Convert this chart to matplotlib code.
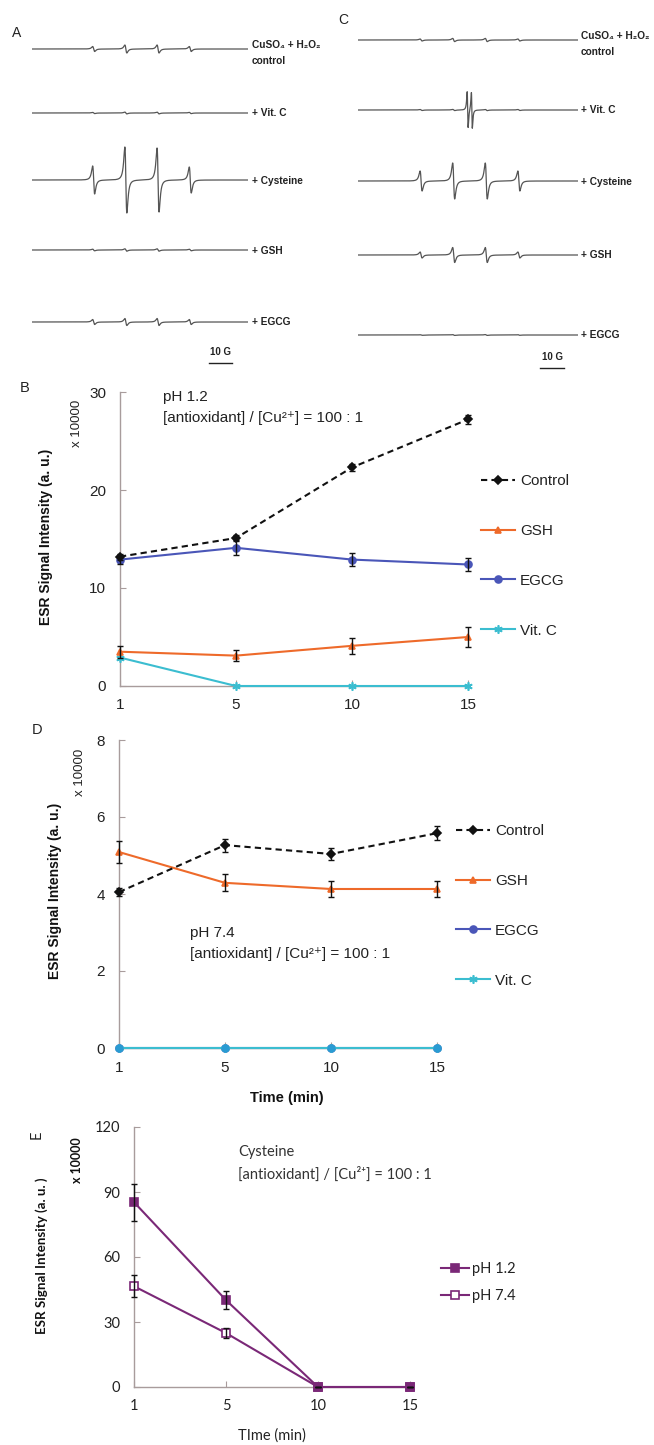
"""ESR spectra (A, C) and ESR signal time courses (B, D, E) for antioxidant / Cu2+ systems."""

import matplotlib
matplotlib.use("Agg")
import matplotlib.pyplot as plt
import numpy as np

W, H = 654, 1445
SANS = ["Liberation Sans", "DejaVu Sans"]
CALI = ["Lato", "DejaVu Sans"]
plt.rcParams["font.family"] = SANS

# ---------------- ESR spectra data ----------------
SPEC_LABELS = ["+ Vit. C", "+ Cysteine", "+ GSH", "+ EGCG"]
LINE_FIELDS = [-21.0, -7.0, 7.0, 21.0]          # G, DMPO-OH quartet
# half peak-to-peak amplitude of each of the four lines (control, Vit C, Cys, GSH, EGCG)
AMP_A = [[2.5, 4.0, 4.0, 2.5],
         [0.6, 0.9, 0.9, 0.6],
         [14.0, 33.0, 32.0, 13.0],
         [0.8, 1.2, 1.2, 0.8],
         [2.5, 3.5, 3.5, 2.5]]
AMP_C = [[1.0, 1.6, 1.6, 1.0],
         [0.5, 0.6, 0.6, 0.5],
         [10.0, 18.0, 18.0, 10.0],
         [3.0, 7.5, 7.5, 3.0],
         [0.3, 0.4, 0.4, 0.3]]
ASC_FIELDS = [-1.0, 0.8]                          # ascorbyl radical doublet (C, + Vit. C)
ASC_AMP = [18.0, 18.0]

# ---------------- time courses ----------------
TIMES = ["1", "5", "10", "15"]

B_CONTROL = [13.2, 15.1, 22.3, 27.2]
B_CONTROL_ERR = [0.3, 0.3, 0.4, 0.5]
B_GSH = [3.5, 3.1, 4.1, 5.0]
B_GSH_ERR = [0.6, 0.6, 0.8, 1.0]
B_EGCG = [12.9, 14.1, 12.9, 12.4]
B_EGCG_ERR = [0.5, 0.75, 0.7, 0.65]
B_VITC = [2.9, 0.0, 0.0, 0.0]

D_CONTROL = [4.05, 5.27, 5.04, 5.58]
D_CONTROL_ERR = [0.1, 0.17, 0.15, 0.18]
D_GSH = [5.09, 4.29, 4.13, 4.13]
D_GSH_ERR = [0.28, 0.22, 0.22, 0.2]
D_EGCG = [0.0, 0.0, 0.0, 0.0]
D_VITC = [0.0, 0.0, 0.0, 0.0]

E_PH12 = [85.3, 40.1, 0.0, 0.0]
E_PH12_ERR = [8.6, 4.3, 0.0, 0.0]
E_PH74 = [46.5, 24.9, 0.0, 0.0]
E_PH74_ERR = [5.0, 2.5, 0.0, 0.0]

RATIO = "[antioxidant] / [Cu\u00b2\u207a] = 100 : 1"

C_BLACK = "#111111"
C_GSH = "#ee6a2a"
C_EGCG = "#4a56b8"
C_VITC = "#3bbdd0"
C_PURPLE = "#7a2877"
SPINE = "#a89c9c"
TRACE = "#555555"


def px_rect(left, top, right, bottom):
    return [left / W, 1 - bottom / H, (right - left) / W, (bottom - top) / H]


def deriv_lorentz(field, center, amp, width):
    u = (field - center) / width
    return amp * (-2 * u / (1 + u ** 2) ** 2) / 0.6495


fig = plt.figure(figsize=(W / 100, H / 100), dpi=100)
ov = fig.add_axes([0, 0, 1, 1], zorder=5)
ov.set_xlim(0, W)
ov.set_ylim(H, 0)
ov.axis("off")
ov.patch.set_alpha(0)


def spectra(rect, xlim, baselines, amps, extra=None, bar=(29, 39), bar_y=363):
    ax = fig.add_axes(px_rect(*rect))
    ax.set_xlim(*xlim)
    ax.set_ylim(rect[3], rect[1])
    ax.axis("off")
    field = np.linspace(xlim[0], xlim[1], 6000)
    for i, (base, amp) in enumerate(zip(baselines, amps)):
        sig = np.zeros_like(field)
        for f0, a in zip(LINE_FIELDS, amp):
            sig += deriv_lorentz(field, f0, a, 0.75)
        if extra is not None and extra[0] == i:
            for f0, a in zip(extra[1], extra[2]):
                sig += deriv_lorentz(field, f0, a, 0.35)
        ax.plot(field, base - sig, color=TRACE, lw=0.9)
    ax.plot(bar, [bar_y, bar_y], color="#222222", lw=1.0, clip_on=False)
    return ax


# A: pH 1.2 spectra
spectra((32, 0, 248, 380), (-47.8, 46.1), [49, 113, 180, 250, 322], AMP_A)
# C: pH 7.4 spectra
spectra((358, 0, 578, 380), (-48.1, 46.4), [40, 110, 181, 255, 335], AMP_C,
        extra=(1, ASC_FIELDS, ASC_AMP), bar=(30, 40.3), bar_y=368)

lab_kw = dict(fontsize=7.3, color="#222222", va="center", ha="left", fontweight="bold")
ov.text(252, 45, "CuSO\u2084 + H\u2082O\u2082", **lab_kw)
ov.text(252, 61, "control", **lab_kw)
for y, s in zip([113, 181, 251, 322], SPEC_LABELS):
    ov.text(252, y, s, **lab_kw)
ov.text(581, 36, "CuSO\u2084 + H\u2082O\u2082", **lab_kw)
ov.text(581, 52, "control", **lab_kw)
for y, s in zip([110, 182, 255, 335], SPEC_LABELS):
    ov.text(581, y, s, **lab_kw)
ov.text(220, 352, "10 G", fontsize=7, fontweight="bold", ha="center", va="center", color="#222222")
ov.text(552, 357, "10 G", fontsize=7, fontweight="bold", ha="center", va="center", color="#222222")
ov.text(17, 33, "A", fontsize=10, ha="center", va="center", color="#222222")
ov.text(343, 20, "C", fontsize=10, ha="center", va="center", color="#222222")


def style_axes(ax, ymax, yticks, family=SANS, size=11):
    x = np.arange(len(TIMES))
    ax.set_xlim(0, 3)
    ax.set_ylim(0, ymax)
    for side in ("top", "right"):
        ax.spines[side].set_visible(False)
    for side in ("left", "bottom"):
        ax.spines[side].set_color(SPINE)
        ax.spines[side].set_linewidth(1.0)
    ax.set_xticks(x)
    ax.set_xticklabels(TIMES, family=family, fontsize=size, color="#222222")
    ax.set_yticks(yticks)
    ax.set_yticklabels([str(t) for t in yticks], family=family, fontsize=size, color="#222222")
    ax.tick_params(axis="both", direction="in", length=4, color=SPINE)
    ax.tick_params(axis="y", pad=10)
    ax.tick_params(axis="x", pad=9)
    ax.patch.set_alpha(0)
    return x


def series(ax, x, y, err, color, marker, label, ls="-", ms=5, mfc=None, z=3):
    if err is not None:
        ax.errorbar(x, y, yerr=err, fmt="none", ecolor=C_BLACK, elinewidth=1.0,
                    capsize=2.5, capthick=1.0, zorder=z + 1, clip_on=False)
    line, = ax.plot(x, y, color=color, ls=ls, lw=1.5, marker=marker, ms=ms,
                    mfc=mfc if mfc else color, mec=color, mew=1.2, label=label,
                    zorder=z, clip_on=False)
    return line


ASTER = (6, 2, 0)

# ---------------- B ----------------
axb = fig.add_axes(px_rect(120, 392, 468, 686))
x = style_axes(axb, 30, [0, 10, 20, 30])
hb = [series(axb, x, B_CONTROL, B_CONTROL_ERR, C_BLACK, "D", "Control", ls=(0, (3, 2)), ms=4, z=6),
      series(axb, x, B_GSH, B_GSH_ERR, C_GSH, "^", "GSH", z=4),
      series(axb, x, B_EGCG, B_EGCG_ERR, C_EGCG, "o", "EGCG", z=5),
      series(axb, x, B_VITC, None, C_VITC, ASTER, "Vit. C", ms=6, z=3)]
axb.legend(handles=hb, loc="upper left", bbox_to_anchor=(481 / W, 1 - 474 / H),
           bbox_transform=fig.transFigure, frameon=False, fontsize=11,
           labelspacing=2.35, handlelength=2.2, handletextpad=0.35,
           borderpad=0, borderaxespad=0, labelcolor="#222222")
ov.text(163, 397, "pH 1.2", fontsize=11, va="center", color="#222222")
ov.text(163, 418, RATIO, fontsize=11, va="center", color="#222222")
ov.text(77, 423, "x 10000", fontsize=9.5, rotation=90, ha="center", va="center", color="#222222")
ov.text(46, 537, "ESR Signal Intensity (a. u.)", fontsize=10, fontweight="bold",
        rotation=90, ha="center", va="center", color="#111111")
ov.text(25, 388, "B", fontsize=10.5, ha="center", va="center", color="#222222")

# ---------------- D ----------------
axd = fig.add_axes(px_rect(119, 740, 437, 1048))
x = style_axes(axd, 8, [0, 2, 4, 6, 8])
hd = [series(axd, x, D_CONTROL, D_CONTROL_ERR, C_BLACK, "D", "Control", ls=(0, (3, 2)), ms=4, z=6),
      series(axd, x, D_GSH, D_GSH_ERR, C_GSH, "^", "GSH", z=5),
      series(axd, x, D_EGCG, None, C_EGCG, "o", "EGCG", z=3),
      series(axd, x, D_VITC, None, C_VITC, ASTER, "Vit. C", ms=6, z=4)]
axd.plot(x, D_EGCG, ls="none", marker="o", ms=5, color="#2a9bd3", zorder=4.5, clip_on=False)
axd.legend(handles=hd, loc="upper left", bbox_to_anchor=(456 / W, 1 - 824 / H),
           bbox_transform=fig.transFigure, frameon=False, fontsize=11,
           labelspacing=2.35, handlelength=2.2, handletextpad=0.35,
           borderpad=0, borderaxespad=0, labelcolor="#222222")
ov.text(190, 933, "pH 7.4", fontsize=11, va="center", color="#222222")
ov.text(190, 954, RATIO, fontsize=11, va="center", color="#222222")
ov.text(80, 772, "x 10000", fontsize=9.5, rotation=90, ha="center", va="center", color="#222222")
ov.text(55, 891, "ESR Signal Intensity (a. u.)", fontsize=10, fontweight="bold",
        rotation=90, ha="center", va="center", color="#111111")
ov.text(287, 1098, "Time (min)", fontsize=10.5, fontweight="bold", ha="center", va="center", color="#111111")
ov.text(37, 730, "D", fontsize=10.5, ha="center", va="center", color="#222222")

# ---------------- E ----------------
axe = fig.add_axes(px_rect(134, 1127, 410, 1387))
x = style_axes(axe, 120, [0, 30, 60, 90, 120], family=CALI, size=10.5)
he = [series(axe, x, E_PH12, E_PH12_ERR, C_PURPLE, "s", "pH 1.2", ms=5.5, z=5),
      series(axe, x, E_PH74, E_PH74_ERR, C_PURPLE, "s", "pH 7.4", ms=5.5, mfc="white", z=4)]
axe.legend(handles=he, loc="upper left", bbox_to_anchor=(441 / W, 1 - 1262 / H),
           bbox_transform=fig.transFigure, frameon=False,
           prop={"family": CALI, "size": 10.5},
           labelspacing=0.9, handlelength=1.9, handletextpad=0.2,
           borderpad=0, borderaxespad=0, labelcolor="#222222")
ov.text(238, 1152, "Cysteine", fontsize=10.5, family=CALI, va="center", color="#333333")
ov.text(238, 1174, RATIO, fontsize=10.5, family=CALI, va="center", color="#333333")
ov.text(77, 1160, "x 10000", fontsize=9, family=CALI, fontweight="bold", rotation=90,
        ha="center", va="center", color="#111111")
ov.text(42, 1256, "ESR Signal Intensity (a. u. )", fontsize=9.6, family=CALI, fontweight="bold",
        rotation=90, ha="center", va="center", color="#111111")
ov.text(272, 1436, "TIme (min)", fontsize=10.5, family=CALI, ha="center", va="center", color="#222222")
ov.text(37, 1135, "E", fontsize=10.5, family=CALI, rotation=90, ha="center", va="center", color="#222222")

fig.savefig("out.png", dpi=100, facecolor="white")
